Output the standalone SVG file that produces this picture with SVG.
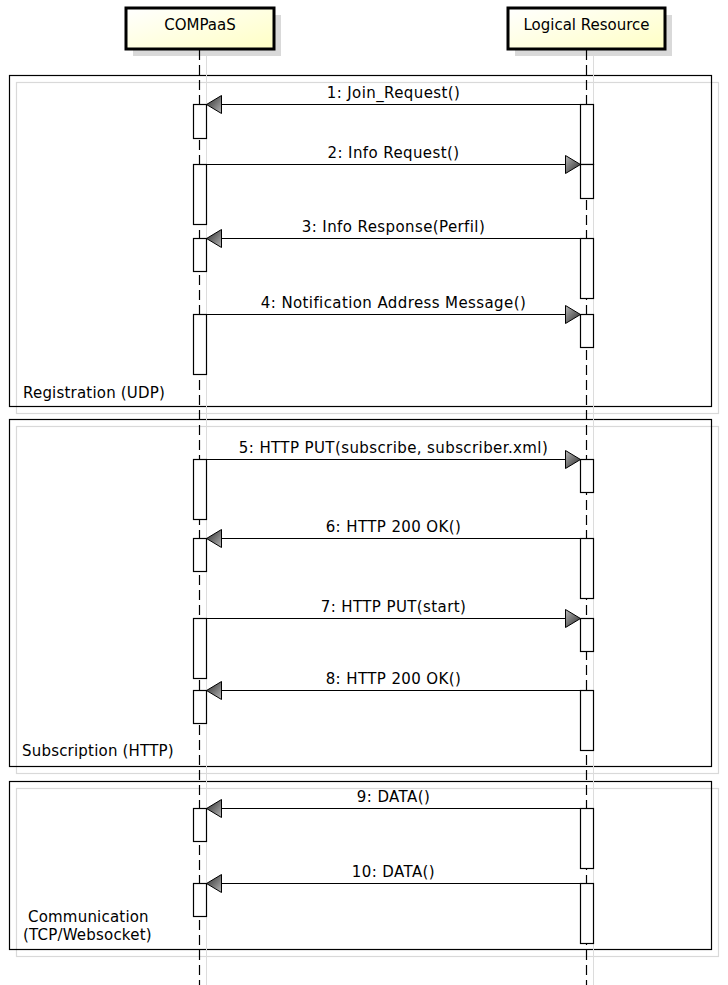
<svg xmlns="http://www.w3.org/2000/svg" width="728" height="985" viewBox="0 0 728 985">
<style>
.frame{fill:none;stroke:#000;stroke-width:1.2}
.fshadow{fill:none;stroke:#d9d9d9;stroke-width:1.2}
.head{fill:url(#boxgrad);stroke:#000;stroke-width:3}
.hshadow{fill:#d9d9d9}
.life{stroke:#000;stroke-width:1.2;stroke-dasharray:10 5}
.lshadow{stroke:#dcdcdc;stroke-width:1}
.act{fill:#fff;stroke:#000;stroke-width:1.2}
.msg{stroke:#000;stroke-width:1.2;fill:none;marker-end:url(#arr)}
.lbl{font-family:"DejaVu Sans",sans-serif;font-size:15px;letter-spacing:0.4px;text-anchor:middle;fill:#000}
.flbl{font-family:"DejaVu Sans",sans-serif;font-size:15px;letter-spacing:0.2px;fill:#000}
.hlbl{font-family:"DejaVu Sans",sans-serif;font-size:15px;text-anchor:middle;fill:#000}
</style>
<defs>
<linearGradient id="boxgrad" x1="0" y1="0" x2="1" y2="1">
<stop offset="0" stop-color="#ffffff"/>
<stop offset="1" stop-color="#ffffc4"/>
</linearGradient>
<linearGradient id="headgrad" x1="0" y1="0" x2="1" y2="1">
<stop offset="0" stop-color="#b8b8b8"/>
<stop offset="1" stop-color="#262626"/>
</linearGradient>
<marker id="arr" markerUnits="userSpaceOnUse" markerWidth="17" markerHeight="20" viewBox="-1 -1 17 20" refX="15" refY="9" orient="auto">
<path d="M0,0 L15,9 L0,18 Z" fill="url(#headgrad)" stroke="#000" stroke-width="1"/>
</marker>
</defs>

<g id="frames">
<rect class="fshadow" x="16.5" y="82.5" width="702" height="331"/>
<rect class="frame" x="9.5" y="75.5" width="702" height="331"/>
<text class="flbl" x="23" y="398">Registration (UDP)</text>
<rect class="fshadow" x="16.5" y="426.5" width="702" height="347"/>
<rect class="frame" x="9.5" y="419.5" width="702" height="347"/>
<text class="flbl" x="22" y="756">Subscription (HTTP)</text>
<rect class="fshadow" x="16.5" y="788.5" width="702" height="168"/>
<rect class="frame" x="9.5" y="781.5" width="702" height="168"/>
<text class="flbl" x="28" y="922">Communication</text>
<text class="flbl" x="23" y="940">(TCP/Websocket)</text>
</g>

<g id="compaas">
<rect class="hshadow" x="133" y="15" width="148" height="41"/>
<rect class="head" x="126" y="8" width="148" height="41"/>
<text class="hlbl" x="200" y="30">COMPaaS</text>
<line class="lshadow" x1="206.5" y1="56" x2="206.5" y2="985"/>
<line class="life" x1="199.5" y1="50" x2="199.5" y2="985"/>
<rect class="act" x="193.5" y="104.5" width="13" height="34"/>
<rect class="act" x="193.5" y="164.5" width="13" height="60"/>
<rect class="act" x="193.5" y="238.5" width="13" height="33"/>
<rect class="act" x="193.5" y="314.5" width="13" height="60"/>
<rect class="act" x="193.5" y="459.5" width="13" height="60"/>
<rect class="act" x="193.5" y="538.5" width="13" height="33"/>
<rect class="act" x="193.5" y="618.5" width="13" height="60"/>
<rect class="act" x="193.5" y="690.5" width="13" height="33"/>
<rect class="act" x="193.5" y="808.5" width="13" height="33"/>
<rect class="act" x="193.5" y="883.5" width="13" height="33"/>
</g>

<g id="logical-resource">
<rect class="hshadow" x="515" y="15" width="157" height="41"/>
<rect class="head" x="508" y="8" width="157" height="41"/>
<text class="hlbl" x="586.5" y="30">Logical Resource</text>
<line class="lshadow" x1="593.5" y1="56" x2="593.5" y2="985"/>
<line class="life" x1="586.5" y1="50" x2="586.5" y2="985"/>
<rect class="act" x="580.5" y="104.5" width="13" height="60"/>
<rect class="act" x="580.5" y="164.5" width="13" height="34"/>
<rect class="act" x="580.5" y="238.5" width="13" height="60"/>
<rect class="act" x="580.5" y="314.5" width="13" height="33"/>
<rect class="act" x="580.5" y="459.5" width="13" height="33"/>
<rect class="act" x="580.5" y="538.5" width="13" height="60"/>
<rect class="act" x="580.5" y="618.5" width="13" height="33"/>
<rect class="act" x="580.5" y="690.5" width="13" height="60"/>
<rect class="act" x="580.5" y="808.5" width="13" height="60"/>
<rect class="act" x="580.5" y="883.5" width="13" height="60"/>
</g>

<g id="connectors">
<line class="msg" x1="580.5" y1="104.5" x2="206.5" y2="104.5"/>
<text class="lbl" x="393.5" y="98">1: Join_Request()</text>
<line class="msg" x1="206.5" y1="164.5" x2="580.5" y2="164.5"/>
<text class="lbl" x="393.5" y="158">2: Info Request()</text>
<line class="msg" x1="580.5" y1="238.5" x2="206.5" y2="238.5"/>
<text class="lbl" x="393.5" y="232">3: Info Response(Perfil)</text>
<line class="msg" x1="206.5" y1="314.5" x2="580.5" y2="314.5"/>
<text class="lbl" x="393.5" y="308">4: Notification Address Message()</text>
<line class="msg" x1="206.5" y1="459.5" x2="580.5" y2="459.5"/>
<text class="lbl" x="393.5" y="453">5: HTTP PUT(subscribe, subscriber.xml)</text>
<line class="msg" x1="580.5" y1="538.5" x2="206.5" y2="538.5"/>
<text class="lbl" x="393.5" y="532">6: HTTP 200 OK()</text>
<line class="msg" x1="206.5" y1="618.5" x2="580.5" y2="618.5"/>
<text class="lbl" x="393.5" y="612">7: HTTP PUT(start)</text>
<line class="msg" x1="580.5" y1="690.5" x2="206.5" y2="690.5"/>
<text class="lbl" x="393.5" y="684">8: HTTP 200 OK()</text>
<line class="msg" x1="580.5" y1="808.5" x2="206.5" y2="808.5"/>
<text class="lbl" x="393.5" y="802">9: DATA()</text>
<line class="msg" x1="580.5" y1="883.5" x2="206.5" y2="883.5"/>
<text class="lbl" x="393.5" y="877">10: DATA()</text>
</g>
</svg>
